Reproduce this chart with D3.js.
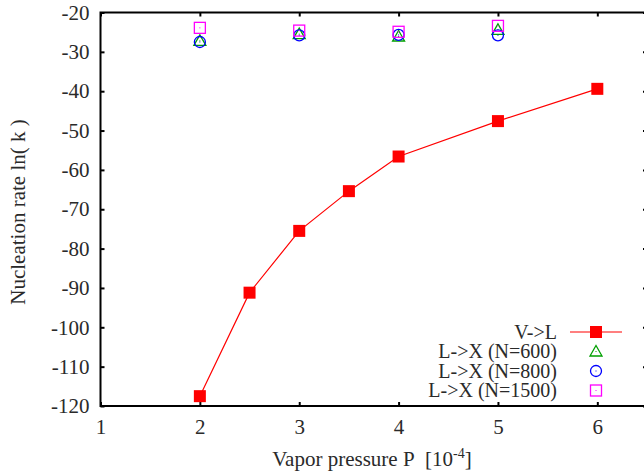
<!DOCTYPE html>
<html>
<head>
<meta charset="UTF-8">
<style>
body { margin: 0 ; background-color: #ffffff ; }
text { font-family: "Liberation Serif", "Times New Roman", serif ; fill: #2a2a2a ; }
</style>
<script src="https://cdn.jsdelivr.net/npm/d3@7"></script>
</head>
<body>
<div id="chart"></div>
<script>
// data
var pressure = [2, 2.5, 3, 3.5, 4, 5, 6] ;
var rateVL = [-117.5, -91.2, -75.5, -65.4, -56.6, -47.6, -39.4] ;

var pressureLX = [2, 3, 4, 5] ;
var rateN600 = [-27.2, -25.5, -26.1, -24.4] ;
var rateN800 = [-27.5, -25.8, -25.7, -25.8] ;
var rateN1500 = [-23.9, -24.6, -24.9, -23.4] ;

var xTicks = [1, 2, 3, 4, 5, 6] ;
var yTicks = [-20, -30, -40, -50, -60, -70, -80, -90, -100, -110, -120] ;

var legendNames = ["V->L", "L->X (N=600)", "L->X (N=800)", "L->X (N=1500)"] ;

var width = 644 ;
var height = 474 ;
var mLeft = 100.5, mRight = 647, mTop = 12.5, mBottom = 406 ;
var fontSize = "21px" ;

var svg = d3.select("#chart").append("svg")
	.attr("width", width)
	.attr("height", height) ;

var x = d3.scaleLinear().domain([1, 6.5]).range([mLeft, mRight]) ;
var y = d3.scaleLinear().domain([-120, -20]).range([mBottom, mTop]) ;

// plain hyphen for minus, like gnuplot
var fmt = function(d) { return String(d) ; } ;

// axes: ticks pointing inward, mirrored on top and right
var xAxis = svg.append("g").attr("transform", "translate(0," + mBottom + ")")
	.call(d3.axisBottom(x).tickValues(xTicks).tickSize(-4).tickPadding(12).tickFormat(fmt)) ;
svg.append("g").attr("transform", "translate(0," + mTop + ")")
	.call(d3.axisTop(x).tickValues(xTicks).tickSize(-4).tickFormat("")) ;
var yAxis = svg.append("g").attr("transform", "translate(" + mLeft + ",0)")
	.call(d3.axisLeft(y).tickValues(yTicks).tickSize(-4).tickPadding(11).tickFormat(fmt)) ;
svg.append("g").attr("transform", "translate(" + mRight + ",0)")
	.call(d3.axisRight(y).tickValues(yTicks).tickSize(-4).tickFormat("")) ;

svg.selectAll(".domain").remove() ;
svg.selectAll(".tick line").attr("stroke", "#000").attr("stroke-width", 2) ;
svg.selectAll(".tick text")
	.style("font-family", "'Liberation Serif', serif")
	.style("font-size", fontSize)
	.attr("fill", "#2a2a2a") ;
xAxis.selectAll(".tick text").attr("dy", "0.75em") ;

svg.append("rect")
	.attr("x", mLeft).attr("y", mTop)
	.attr("width", mRight - mLeft).attr("height", mBottom - mTop)
	.attr("fill", "none").attr("stroke", "#000").attr("stroke-width", 2) ;

// axis titles
var xTitle = svg.append("text")
	.attr("x", 372).attr("y", 466)
	.attr("text-anchor", "middle")
	.style("font-size", fontSize) ;
xTitle.append("tspan").text("Vapor pressure P\u00a0\u00a0[10") ;
xTitle.append("tspan").attr("dy", -8).style("font-size", "14px").text("-4") ;
xTitle.append("tspan").attr("dy", 8).text("]") ;

svg.append("text")
	.attr("transform", "translate(25,212) rotate(-90)")
	.attr("text-anchor", "middle")
	.style("font-size", fontSize)
	.text("Nucleation rate ln( k )") ;

// V->L line + filled squares
var line = d3.line()
	.x(function(d, i) { return x(pressure[i]) ; })
	.y(function(d) { return y(d) ; }) ;

svg.append("path")
	.datum(rateVL)
	.attr("d", line)
	.attr("fill", "none")
	.attr("stroke", "#ff0000")
	.attr("stroke-width", 1.2) ;

svg.selectAll("rect.vl")
	.data(rateVL)
	.enter()
	.append("rect")
		.attr("class", "vl")
		.attr("x", function(d, i) { return x(pressure[i]) - 6 ; })
		.attr("y", function(d) { return y(d) - 6 ; })
		.attr("width", 12).attr("height", 12)
		.attr("fill", "#ff0000") ;

// open markers with a centre dot
function triangle(g, cx, cy, col) {
	g.append("path")
		.attr("d", "M" + cx + "," + (cy - 6) + "L" + (cx + 6) + "," + (cy + 4.5) + "L" + (cx - 6) + "," + (cy + 4.5) + "Z")
		.attr("fill", "none").attr("stroke", col).attr("stroke-width", 1.3) ;
	g.append("rect").attr("x", cx - 0.5).attr("y", cy - 0.5).attr("width", 1).attr("height", 1).attr("fill", col) ;
}
function circle(g, cx, cy, col) {
	g.append("circle").attr("cx", cx).attr("cy", cy).attr("r", 5.5)
		.attr("fill", "none").attr("stroke", col).attr("stroke-width", 1.3) ;
	g.append("rect").attr("x", cx - 0.5).attr("y", cy - 0.5).attr("width", 1).attr("height", 1).attr("fill", col) ;
}
function square(g, cx, cy, col) {
	g.append("rect").attr("x", cx - 5.5).attr("y", cy - 5.5).attr("width", 11).attr("height", 11)
		.attr("fill", "none").attr("stroke", col).attr("stroke-width", 1.3) ;
	g.append("rect").attr("x", cx - 0.5).attr("y", cy - 0.5).attr("width", 1).attr("height", 1).attr("fill", col) ;
}

var green = "#00a000", blue = "#0000ff", magenta = "#ff00ff" ;
var pts = svg.append("g") ;
pressureLX.forEach(function(p, i) {
	triangle(pts, x(p), y(rateN600[i]), green) ;
	circle(pts, x(p), y(rateN800[i]), blue) ;
	square(pts, x(p), y(rateN1500[i]), magenta) ;
}) ;

// legend
var legend = svg.append("g") ;
var legendY = [332, 351.5, 371, 390.5] ;
legendNames.forEach(function(name, i) {
	legend.append("text")
		.attr("x", 557).attr("y", legendY[i])
		.attr("dy", "0.33em")
		.attr("text-anchor", "end")
		.style("font-size", "20px")
		.text(name) ;
}) ;
legend.append("line")
	.attr("x1", 570).attr("x2", 622)
	.attr("y1", legendY[0]).attr("y2", legendY[0])
	.attr("stroke", "#ff0000").attr("stroke-width", 1.2) ;
legend.append("rect")
	.attr("x", 590).attr("y", legendY[0] - 6)
	.attr("width", 12).attr("height", 12)
	.attr("fill", "#ff0000") ;
triangle(legend, 596, legendY[1], green) ;
circle(legend, 596, legendY[2], blue) ;
square(legend, 596, legendY[3], magenta) ;
</script>
</body>
</html>
